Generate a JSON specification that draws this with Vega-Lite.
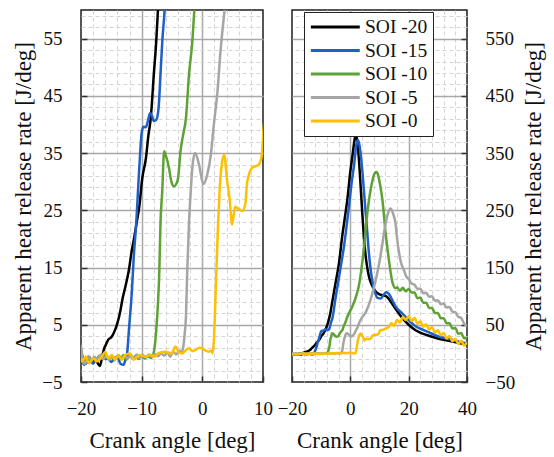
{
"$schema": "https://vega.github.io/schema/vega-lite/v6.json",
"padding": {"left": 12, "top": 9, "right": 2, "bottom": 2},
"background": "white",
"config": {
 "view": {"stroke": "#1e1e1e", "strokeWidth": 1.5},
 "axis": {"labelFontSize": 19, "labelColor": "#111", "titleFontSize": 23, "titleFontWeight": "normal", "titleColor": "#111", "domain": false, "tickColor": "#333", "tickWidth": 1.5, "tickSize": -6, "labelFlush": false, "labelOverlap": false, "labelBound": false}
},
"datasets": {"hrr": [
{"s":"SOI -20","a":-20,"h":0.6},{"s":"SOI -20","a":-19.6,"h":-1.2},{"s":"SOI -20","a":-19.2,"h":-1.8},{"s":"SOI -20","a":-18.7,"h":-0.6},{"s":"SOI -20","a":-18.2,"h":-1.5},{"s":"SOI -20","a":-17.7,"h":-0.8},{"s":"SOI -20","a":-17.3,"h":-1.6},{"s":"SOI -20","a":-16.9,"h":-2.2},{"s":"SOI -20","a":-16.5,"h":-0.6},{"s":"SOI -20","a":-16.2,"h":0.8},{"s":"SOI -20","a":-15.9,"h":1.5},{"s":"SOI -20","a":-15.5,"h":2.4},{"s":"SOI -20","a":-15,"h":2.8},{"s":"SOI -20","a":-14.5,"h":3.8},{"s":"SOI -20","a":-14,"h":5.3},{"s":"SOI -20","a":-13.5,"h":7.5},{"s":"SOI -20","a":-13.2,"h":9.3},{"s":"SOI -20","a":-12.7,"h":11.6},{"s":"SOI -20","a":-12.1,"h":14.6},{"s":"SOI -20","a":-11.7,"h":17.5},{"s":"SOI -20","a":-11.3,"h":19.8},{"s":"SOI -20","a":-10.8,"h":23},{"s":"SOI -20","a":-10.4,"h":25.6},{"s":"SOI -20","a":-9.9,"h":30.6},{"s":"SOI -20","a":-9.3,"h":34.1},{"s":"SOI -20","a":-8.9,"h":38},{"s":"SOI -20","a":-8.5,"h":41.1},{"s":"SOI -20","a":-8,"h":48.7},{"s":"SOI -20","a":-7.6,"h":54.5},{"s":"SOI -20","a":-7.3,"h":60.3},{"s":"SOI -20","a":-6.8,"h":72},{"s":"SOI -20","a":-6.2,"h":90},{"s":"SOI -20","a":-5,"h":125},{"s":"SOI -20","a":-3.9,"h":157},{"s":"SOI -20","a":-2.8,"h":204},{"s":"SOI -20","a":-1.8,"h":240},{"s":"SOI -20","a":-1,"h":270},{"s":"SOI -20","a":0,"h":318},{"s":"SOI -20","a":0.7,"h":344},{"s":"SOI -20","a":1.3,"h":368},{"s":"SOI -20","a":1.8,"h":382},{"s":"SOI -20","a":2.3,"h":374},{"s":"SOI -20","a":3,"h":335},{"s":"SOI -20","a":3.5,"h":295},{"s":"SOI -20","a":4.1,"h":245},{"s":"SOI -20","a":4.7,"h":200},{"s":"SOI -20","a":5.2,"h":172},{"s":"SOI -20","a":5.8,"h":150},{"s":"SOI -20","a":6.4,"h":134},{"s":"SOI -20","a":7.5,"h":118},{"s":"SOI -20","a":8.7,"h":108},{"s":"SOI -20","a":10,"h":103},{"s":"SOI -20","a":11.5,"h":101},{"s":"SOI -20","a":12.5,"h":99},{"s":"SOI -20","a":13.5,"h":93},{"s":"SOI -20","a":15.5,"h":78},{"s":"SOI -20","a":17.8,"h":62},{"s":"SOI -20","a":20,"h":50},{"s":"SOI -20","a":22.5,"h":40},{"s":"SOI -20","a":25,"h":34},{"s":"SOI -20","a":27,"h":30.8},{"s":"SOI -20","a":30,"h":26},{"s":"SOI -20","a":33.8,"h":22},{"s":"SOI -20","a":37,"h":18.5},{"s":"SOI -20","a":40,"h":15},
{"s":"SOI -15","a":-20,"h":-0.5},{"s":"SOI -15","a":-19.5,"h":-2},{"s":"SOI -15","a":-19,"h":-1.5},{"s":"SOI -15","a":-18.5,"h":-1.2},{"s":"SOI -15","a":-18,"h":-1.8},{"s":"SOI -15","a":-17.5,"h":-1},{"s":"SOI -15","a":-17,"h":-0.8},{"s":"SOI -15","a":-16.5,"h":-0.2},{"s":"SOI -15","a":-16,"h":-1},{"s":"SOI -15","a":-15.5,"h":-0.9},{"s":"SOI -15","a":-15,"h":-1.5},{"s":"SOI -15","a":-14.5,"h":-1},{"s":"SOI -15","a":-14,"h":-0.6},{"s":"SOI -15","a":-13.5,"h":-1.8},{"s":"SOI -15","a":-13,"h":-2},{"s":"SOI -15","a":-12.6,"h":-0.8},{"s":"SOI -15","a":-12.4,"h":0},{"s":"SOI -15","a":-12.1,"h":4.1},{"s":"SOI -15","a":-11.6,"h":11.1},{"s":"SOI -15","a":-11.3,"h":16.9},{"s":"SOI -15","a":-10.9,"h":22.7},{"s":"SOI -15","a":-10.6,"h":28.5},{"s":"SOI -15","a":-10.3,"h":34.1},{"s":"SOI -15","a":-10,"h":38.5},{"s":"SOI -15","a":-9.7,"h":39.6},{"s":"SOI -15","a":-9.3,"h":39.5},{"s":"SOI -15","a":-9,"h":40.5},{"s":"SOI -15","a":-8.6,"h":42},{"s":"SOI -15","a":-8.3,"h":41.5},{"s":"SOI -15","a":-8,"h":40.6},{"s":"SOI -15","a":-7.6,"h":40.8},{"s":"SOI -15","a":-7.2,"h":43},{"s":"SOI -15","a":-6.9,"h":48.7},{"s":"SOI -15","a":-6.6,"h":54.5},{"s":"SOI -15","a":-6.2,"h":60.3},{"s":"SOI -15","a":-5,"h":99},{"s":"SOI -15","a":-3.5,"h":145},{"s":"SOI -15","a":-2.2,"h":186},{"s":"SOI -15","a":-0.5,"h":256},{"s":"SOI -15","a":0.5,"h":300},{"s":"SOI -15","a":1.3,"h":330},{"s":"SOI -15","a":2,"h":362},{"s":"SOI -15","a":2.6,"h":373},{"s":"SOI -15","a":3.2,"h":362},{"s":"SOI -15","a":4.1,"h":320},{"s":"SOI -15","a":5,"h":262},{"s":"SOI -15","a":5.6,"h":225},{"s":"SOI -15","a":6.2,"h":185},{"s":"SOI -15","a":7,"h":145},{"s":"SOI -15","a":7.8,"h":120},{"s":"SOI -15","a":8.5,"h":106},{"s":"SOI -15","a":9.3,"h":97},{"s":"SOI -15","a":10.5,"h":96},{"s":"SOI -15","a":11.5,"h":103},{"s":"SOI -15","a":12.3,"h":107},{"s":"SOI -15","a":13.2,"h":104},{"s":"SOI -15","a":14.5,"h":92},{"s":"SOI -15","a":15.5,"h":82},{"s":"SOI -15","a":17.8,"h":70},{"s":"SOI -15","a":20,"h":58},{"s":"SOI -15","a":22.5,"h":47},{"s":"SOI -15","a":25,"h":41},{"s":"SOI -15","a":27,"h":36.6},{"s":"SOI -15","a":30,"h":30},{"s":"SOI -15","a":33.8,"h":25},{"s":"SOI -15","a":37,"h":21},{"s":"SOI -15","a":40,"h":17.5},
{"s":"SOI -10","a":-20,"h":0.3},{"s":"SOI -10","a":-19.6,"h":-1.8},{"s":"SOI -10","a":-19,"h":-1},{"s":"SOI -10","a":-18.5,"h":-1.5},{"s":"SOI -10","a":-18,"h":-0.8},{"s":"SOI -10","a":-17.5,"h":-1.2},{"s":"SOI -10","a":-17,"h":-0.4},{"s":"SOI -10","a":-16.5,"h":-1},{"s":"SOI -10","a":-16,"h":-0.2},{"s":"SOI -10","a":-15.5,"h":-1},{"s":"SOI -10","a":-15,"h":-0.5},{"s":"SOI -10","a":-14.5,"h":-1.2},{"s":"SOI -10","a":-14,"h":-0.4},{"s":"SOI -10","a":-13.5,"h":-1},{"s":"SOI -10","a":-13,"h":-0.3},{"s":"SOI -10","a":-12.5,"h":-1.1},{"s":"SOI -10","a":-12,"h":-0.2},{"s":"SOI -10","a":-11.5,"h":-0.9},{"s":"SOI -10","a":-11,"h":-0.4},{"s":"SOI -10","a":-10.5,"h":-1},{"s":"SOI -10","a":-10,"h":-0.3},{"s":"SOI -10","a":-9.5,"h":-0.9},{"s":"SOI -10","a":-9,"h":-0.5},{"s":"SOI -10","a":-8.5,"h":-0.8},{"s":"SOI -10","a":-8.2,"h":-0.4},{"s":"SOI -10","a":-8,"h":0.2},{"s":"SOI -10","a":-7.6,"h":4},{"s":"SOI -10","a":-7.3,"h":9},{"s":"SOI -10","a":-7.1,"h":14},{"s":"SOI -10","a":-6.9,"h":22.7},{"s":"SOI -10","a":-6.6,"h":28.5},{"s":"SOI -10","a":-6.3,"h":35.3},{"s":"SOI -10","a":-6,"h":34.5},{"s":"SOI -10","a":-5.5,"h":32.4},{"s":"SOI -10","a":-5.1,"h":30},{"s":"SOI -10","a":-4.7,"h":29.2},{"s":"SOI -10","a":-4.3,"h":29.6},{"s":"SOI -10","a":-4,"h":30.6},{"s":"SOI -10","a":-3.6,"h":35.3},{"s":"SOI -10","a":-3.2,"h":38},{"s":"SOI -10","a":-2.7,"h":41.1},{"s":"SOI -10","a":-2.2,"h":48.7},{"s":"SOI -10","a":-1.65,"h":54.5},{"s":"SOI -10","a":-1.3,"h":60.3},{"s":"SOI -10","a":-0.5,"h":70},{"s":"SOI -10","a":0.7,"h":82},{"s":"SOI -10","a":2,"h":100},{"s":"SOI -10","a":3,"h":120},{"s":"SOI -10","a":4,"h":155},{"s":"SOI -10","a":4.7,"h":186},{"s":"SOI -10","a":5.5,"h":230},{"s":"SOI -10","a":6.4,"h":268},{"s":"SOI -10","a":7.5,"h":300},{"s":"SOI -10","a":8.3,"h":314},{"s":"SOI -10","a":8.9,"h":317},{"s":"SOI -10","a":9.5,"h":312},{"s":"SOI -10","a":10.2,"h":295},{"s":"SOI -10","a":11,"h":268},{"s":"SOI -10","a":12.1,"h":210},{"s":"SOI -10","a":13.3,"h":160},{"s":"SOI -10","a":14.4,"h":125},{"s":"SOI -10","a":15.5,"h":114},{"s":"SOI -10","a":16,"h":115.5},{"s":"SOI -10","a":17,"h":109.5},{"s":"SOI -10","a":18,"h":114.5},{"s":"SOI -10","a":19,"h":108.5},{"s":"SOI -10","a":20,"h":112.5},{"s":"SOI -10","a":21,"h":106.5},{"s":"SOI -10","a":22,"h":106.5},{"s":"SOI -10","a":23,"h":96.5},{"s":"SOI -10","a":24,"h":97.5},{"s":"SOI -10","a":25,"h":88.5},{"s":"SOI -10","a":26,"h":88.5},{"s":"SOI -10","a":27,"h":79.5},{"s":"SOI -10","a":28,"h":79.5},{"s":"SOI -10","a":29,"h":70.5},{"s":"SOI -10","a":30,"h":70.5},{"s":"SOI -10","a":31,"h":61.5},{"s":"SOI -10","a":32,"h":61.5},{"s":"SOI -10","a":33,"h":52.5},{"s":"SOI -10","a":34,"h":52.5},{"s":"SOI -10","a":35,"h":43.5},{"s":"SOI -10","a":36,"h":44.5},{"s":"SOI -10","a":37,"h":34.5},{"s":"SOI -10","a":38,"h":35.5},{"s":"SOI -10","a":39,"h":26.5},{"s":"SOI -10","a":40,"h":27.5},
{"s":"SOI -5","a":-20,"h":1.5},{"s":"SOI -5","a":-19.7,"h":-1},{"s":"SOI -5","a":-19.3,"h":-1.8},{"s":"SOI -5","a":-18.8,"h":-0.5},{"s":"SOI -5","a":-18.3,"h":-1.2},{"s":"SOI -5","a":-17.8,"h":-0.6},{"s":"SOI -5","a":-17.3,"h":-1.1},{"s":"SOI -5","a":-16.8,"h":-0.3},{"s":"SOI -5","a":-16.3,"h":-1},{"s":"SOI -5","a":-15.8,"h":-0.4},{"s":"SOI -5","a":-15.3,"h":-1.1},{"s":"SOI -5","a":-14.8,"h":-0.5},{"s":"SOI -5","a":-14.3,"h":-0.9},{"s":"SOI -5","a":-13.8,"h":-0.3},{"s":"SOI -5","a":-13.3,"h":-1},{"s":"SOI -5","a":-12.8,"h":-0.4},{"s":"SOI -5","a":-12.3,"h":-0.9},{"s":"SOI -5","a":-11.8,"h":-0.3},{"s":"SOI -5","a":-11.3,"h":-0.8},{"s":"SOI -5","a":-10.8,"h":-0.2},{"s":"SOI -5","a":-10.3,"h":-0.8},{"s":"SOI -5","a":-9.8,"h":-0.3},{"s":"SOI -5","a":-9.3,"h":-0.7},{"s":"SOI -5","a":-8.8,"h":-0.2},{"s":"SOI -5","a":-8.3,"h":-0.6},{"s":"SOI -5","a":-7.8,"h":-0.1},{"s":"SOI -5","a":-7.3,"h":-0.5},{"s":"SOI -5","a":-6.8,"h":0},{"s":"SOI -5","a":-6.3,"h":-0.4},{"s":"SOI -5","a":-5.8,"h":0.2},{"s":"SOI -5","a":-5.3,"h":-0.6},{"s":"SOI -5","a":-4.8,"h":0.3},{"s":"SOI -5","a":-4.3,"h":-0.2},{"s":"SOI -5","a":-3.8,"h":0.5},{"s":"SOI -5","a":-3.4,"h":0.2},{"s":"SOI -5","a":-3.2,"h":0.8},{"s":"SOI -5","a":-2.9,"h":3.5},{"s":"SOI -5","a":-2.7,"h":6.4},{"s":"SOI -5","a":-2.5,"h":14},{"s":"SOI -5","a":-2.2,"h":22.7},{"s":"SOI -5","a":-1.9,"h":28.5},{"s":"SOI -5","a":-1.65,"h":32.4},{"s":"SOI -5","a":-1.2,"h":35},{"s":"SOI -5","a":-0.55,"h":33},{"s":"SOI -5","a":0.15,"h":29.6},{"s":"SOI -5","a":0.8,"h":31.2},{"s":"SOI -5","a":1.4,"h":34.7},{"s":"SOI -5","a":1.9,"h":40},{"s":"SOI -5","a":2.5,"h":45.8},{"s":"SOI -5","a":3,"h":52.8},{"s":"SOI -5","a":3.7,"h":60.3},{"s":"SOI -5","a":5.3,"h":72},{"s":"SOI -5","a":7,"h":95},{"s":"SOI -5","a":8.7,"h":128},{"s":"SOI -5","a":10,"h":160},{"s":"SOI -5","a":11,"h":192},{"s":"SOI -5","a":12.1,"h":227},{"s":"SOI -5","a":13,"h":246},{"s":"SOI -5","a":13.8,"h":253},{"s":"SOI -5","a":14.6,"h":245},{"s":"SOI -5","a":15.5,"h":227},{"s":"SOI -5","a":16.1,"h":198},{"s":"SOI -5","a":17.3,"h":160},{"s":"SOI -5","a":18.4,"h":145},{"s":"SOI -5","a":19.2,"h":134},{"s":"SOI -5","a":20,"h":130},{"s":"SOI -5","a":21,"h":122},{"s":"SOI -5","a":22,"h":120},{"s":"SOI -5","a":23,"h":113},{"s":"SOI -5","a":24,"h":113},{"s":"SOI -5","a":25,"h":105},{"s":"SOI -5","a":26,"h":106},{"s":"SOI -5","a":27,"h":99},{"s":"SOI -5","a":28,"h":100},{"s":"SOI -5","a":29,"h":92},{"s":"SOI -5","a":30,"h":93},{"s":"SOI -5","a":31,"h":86},{"s":"SOI -5","a":32,"h":87},{"s":"SOI -5","a":33,"h":80},{"s":"SOI -5","a":34,"h":81},{"s":"SOI -5","a":35,"h":73},{"s":"SOI -5","a":36,"h":72},{"s":"SOI -5","a":37,"h":64},{"s":"SOI -5","a":38,"h":62},{"s":"SOI -5","a":39,"h":52},{"s":"SOI -5","a":40,"h":48},
{"s":"SOI -0","a":-20,"h":-0.8},{"s":"SOI -0","a":-19.8,"h":-1.4},{"s":"SOI -0","a":-19.2,"h":-0.6},{"s":"SOI -0","a":-18.7,"h":-1.7},{"s":"SOI -0","a":-17.9,"h":-0.9},{"s":"SOI -0","a":-17.4,"h":-1.4},{"s":"SOI -0","a":-16.6,"h":-0.6},{"s":"SOI -0","a":-16,"h":0.3},{"s":"SOI -0","a":-15.5,"h":-0.9},{"s":"SOI -0","a":-14.9,"h":-0.3},{"s":"SOI -0","a":-14.4,"h":-1.1},{"s":"SOI -0","a":-13.8,"h":-0.3},{"s":"SOI -0","a":-13.3,"h":-1.1},{"s":"SOI -0","a":-12.7,"h":-0.3},{"s":"SOI -0","a":-11.9,"h":0},{"s":"SOI -0","a":-11.3,"h":-1.1},{"s":"SOI -0","a":-10.7,"h":-0.6},{"s":"SOI -0","a":-10.2,"h":-0.3},{"s":"SOI -0","a":-9.4,"h":-0.6},{"s":"SOI -0","a":-8.5,"h":-0.3},{"s":"SOI -0","a":-7.9,"h":-0.6},{"s":"SOI -0","a":-7.3,"h":0},{"s":"SOI -0","a":-6.2,"h":0.3},{"s":"SOI -0","a":-5.1,"h":0},{"s":"SOI -0","a":-4.4,"h":1.2},{"s":"SOI -0","a":-3.9,"h":0.2},{"s":"SOI -0","a":-3.3,"h":0},{"s":"SOI -0","a":-2.7,"h":0.6},{"s":"SOI -0","a":-2.2,"h":0.9},{"s":"SOI -0","a":-1.6,"h":0.4},{"s":"SOI -0","a":-1.1,"h":0.6},{"s":"SOI -0","a":-0.5,"h":1},{"s":"SOI -0","a":0,"h":0.9},{"s":"SOI -0","a":0.5,"h":0.5},{"s":"SOI -0","a":1.1,"h":0.3},{"s":"SOI -0","a":1.5,"h":0.5},{"s":"SOI -0","a":1.7,"h":0},{"s":"SOI -0","a":1.9,"h":2.3},{"s":"SOI -0","a":2.3,"h":14},{"s":"SOI -0","a":2.6,"h":22.7},{"s":"SOI -0","a":2.85,"h":28.5},{"s":"SOI -0","a":3.2,"h":33},{"s":"SOI -0","a":3.6,"h":34.7},{"s":"SOI -0","a":4.1,"h":30},{"s":"SOI -0","a":4.5,"h":27},{"s":"SOI -0","a":4.9,"h":22.5},{"s":"SOI -0","a":5.4,"h":25.6},{"s":"SOI -0","a":5.9,"h":25.3},{"s":"SOI -0","a":6.6,"h":24.9},{"s":"SOI -0","a":7.1,"h":26.2},{"s":"SOI -0","a":7.4,"h":30},{"s":"SOI -0","a":8.2,"h":32.4},{"s":"SOI -0","a":9.3,"h":33},{"s":"SOI -0","a":9.8,"h":34.6},{"s":"SOI -0","a":10.2,"h":40.4},{"s":"SOI -0","a":11,"h":41},{"s":"SOI -0","a":12,"h":43},{"s":"SOI -0","a":13.3,"h":47},{"s":"SOI -0","a":14,"h":52.5},{"s":"SOI -0","a":15,"h":48},{"s":"SOI -0","a":16,"h":58.5},{"s":"SOI -0","a":17,"h":54},{"s":"SOI -0","a":18,"h":63.5},{"s":"SOI -0","a":19,"h":58.5},{"s":"SOI -0","a":20,"h":65},{"s":"SOI -0","a":21,"h":56.5},{"s":"SOI -0","a":22,"h":62},{"s":"SOI -0","a":23,"h":52},{"s":"SOI -0","a":24,"h":56},{"s":"SOI -0","a":25,"h":46.5},{"s":"SOI -0","a":26,"h":51},{"s":"SOI -0","a":27,"h":41.5},{"s":"SOI -0","a":28,"h":46},{"s":"SOI -0","a":29,"h":36.5},{"s":"SOI -0","a":30,"h":40.5},{"s":"SOI -0","a":31,"h":31.5},{"s":"SOI -0","a":32,"h":35.5},{"s":"SOI -0","a":33,"h":26},{"s":"SOI -0","a":34,"h":30.5},{"s":"SOI -0","a":35,"h":21},{"s":"SOI -0","a":36,"h":25.5},{"s":"SOI -0","a":37,"h":16.5},{"s":"SOI -0","a":38,"h":22},{"s":"SOI -0","a":39,"h":13.5},{"s":"SOI -0","a":40,"h":19.5}
]},
"data": {"name": "hrr"},
"spacing": 29,
"bounds": "flush",
"resolve": {"scale": {"color": "independent", "x": "independent", "y": "independent"}, "legend": {"color": "independent"}},
"hconcat": [
 {
  "width": 182, "height": 372,
  "layer": [
   {"mark": {"type": "line", "opacity": 0, "clip": true},
    "encoding": {
     "x": {"field": "a", "type": "quantitative", "scale": {"domain": [-20, 10], "nice": false, "zero": false},
           "axis": {"orient": "bottom", "values": [-18,-16,-14,-12,-8,-6,-4,-2,2,4,6,8], "grid": true, "gridDash": [4,3], "gridColor": "#d4d4d4", "gridWidth": 1, "ticks": false, "labels": false, "domain": false, "title": null}},
     "y": {"field": "h", "type": "quantitative", "scale": {"domain": [-5, 60], "nice": false, "zero": false},
           "axis": {"orient": "left", "values": [-3,-1,1,3,7,9,11,13,17,19,21,23,27,29,31,33,37,39,41,43,47,49,51,53,57,59], "grid": true, "gridDash": [4,3], "gridColor": "#d4d4d4", "gridWidth": 1, "ticks": false, "labels": false, "domain": false, "title": null}}
    }},
   {"mark": {"type": "line", "opacity": 0, "clip": true},
    "encoding": {
     "x": {"field": "a", "type": "quantitative", "scale": {"domain": [-20, 10], "nice": false, "zero": false},
           "axis": {"orient": "bottom", "values": [-10, 0], "grid": true, "gridColor": "#a8a8a8", "gridWidth": 1.5, "ticks": false, "labels": false, "domain": false, "title": null}},
     "y": {"field": "h", "type": "quantitative", "scale": {"domain": [-5, 60], "nice": false, "zero": false},
           "axis": {"orient": "left", "values": [5,15,25,35,45,55], "grid": true, "gridColor": "#a8a8a8", "gridWidth": 1.5, "ticks": false, "labels": false, "domain": false, "title": null}}
    }},
   {"mark": {"type": "line", "clip": true, "strokeWidth": 2.5, "interpolate": "monotone"},
    "encoding": {
     "x": {"field": "a", "type": "quantitative", "scale": {"domain": [-20, 10], "nice": false, "zero": false},
           "axis": {"orient": "bottom", "values": [-20,-10,0,10], "grid": false, "labelFont": "serif", "titleFont": "serif", "labelPadding": 23, "titlePadding": 11, "title": "Crank angle [deg]"}},
     "y": {"field": "h", "type": "quantitative", "scale": {"domain": [-5, 60], "nice": false, "zero": false},
           "axis": {"orient": "left", "values": [-5,5,15,25,35,45,55], "grid": false, "labelFont": "serif", "titleFont": "serif", "labelPadding": 25, "titlePadding": 6, "title": "Apparent heat release rate [J/deg]"}},
     "color": {"field": "s", "type": "nominal", "scale": {"domain": ["SOI -20","SOI -15","SOI -10","SOI -5","SOI -0"], "range": ["#000000","#1f5fc6","#5ea135","#a5a5a5","#ffc000"]}, "legend": null}
    }}
  ],
  "resolve": {"axis": {"x": "independent", "y": "independent"}}
 },
 {
  "width": 175, "height": 372,
  "layer": [
   {"mark": {"type": "line", "opacity": 0, "clip": true},
    "encoding": {
     "x": {"field": "a", "type": "quantitative", "scale": {"domain": [-20, 40], "nice": false, "zero": false},
           "axis": {"orient": "bottom", "values": [-16,-12,-8,-4,4,8,12,16,24,28,32,36], "grid": true, "gridDash": [4,3], "gridColor": "#d4d4d4", "gridWidth": 1, "ticks": false, "labels": false, "domain": false, "title": null}},
     "y": {"field": "h", "type": "quantitative", "scale": {"domain": [-50, 600], "nice": false, "zero": false},
           "axis": {"orient": "right", "values": [-30,-10,10,30,70,90,110,130,170,190,210,230,270,290,310,330,370,390,410,430,470,490,510,530,570,590], "grid": true, "gridDash": [4,3], "gridColor": "#d4d4d4", "gridWidth": 1, "ticks": false, "labels": false, "domain": false, "title": null}}
    }},
   {"mark": {"type": "line", "opacity": 0, "clip": true},
    "encoding": {
     "x": {"field": "a", "type": "quantitative", "scale": {"domain": [-20, 40], "nice": false, "zero": false},
           "axis": {"orient": "bottom", "values": [0, 20], "grid": true, "gridColor": "#a8a8a8", "gridWidth": 1.5, "ticks": false, "labels": false, "domain": false, "title": null}},
     "y": {"field": "h", "type": "quantitative", "scale": {"domain": [-50, 600], "nice": false, "zero": false},
           "axis": {"orient": "right", "values": [50,150,250,350,450,550], "grid": true, "gridColor": "#a8a8a8", "gridWidth": 1.5, "ticks": false, "labels": false, "domain": false, "title": null}}
    }},
   {"mark": {"type": "line", "clip": true, "strokeWidth": 2.5, "interpolate": "monotone"},
    "encoding": {
     "x": {"field": "a", "type": "quantitative", "scale": {"domain": [-20, 40], "nice": false, "zero": false},
           "axis": {"orient": "bottom", "values": [-20,0,20,40], "grid": false, "labelFont": "Times New Roman", "titleFont": "Times New Roman", "labelPadding": 23, "titlePadding": 11, "title": "Crank angle [deg]"}},
     "y": {"field": "h", "type": "quantitative", "scale": {"domain": [-50, 600], "nice": false, "zero": false},
           "axis": {"orient": "right", "values": [-50,50,150,250,350,450,550], "grid": false, "labelFont": "Times New Roman", "titleFont": "Times New Roman", "labelPadding": 24, "titlePadding": 8, "titleAngle": 270, "titleBaseline": "top", "title": "Apparent heat release rate [J/deg]"}},
     "color": {"field": "s", "type": "nominal", "scale": {"domain": ["SOI -20","SOI -15","SOI -10","SOI -5","SOI -0"], "range": ["#000000","#1f5fc6","#5ea135","#a5a5a5","#ffc000"]},
       "legend": {"orient": "none", "legendX": 12, "legendY": 2, "title": null, "symbolType": "M-1,0H5", "symbolSize": 266, "symbolStrokeWidth": 3, "labelOffset": 36, "labelFont": "Liberation Serif", "labelFontSize": 19.5, "labelColor": "#111", "padding": 5, "rowPadding": 3.5, "strokeColor": "#222", "fillColor": "white", "cornerRadius": 0}}
    }}
  ],
  "resolve": {"axis": {"x": "independent", "y": "independent"}}
 }
]
}
